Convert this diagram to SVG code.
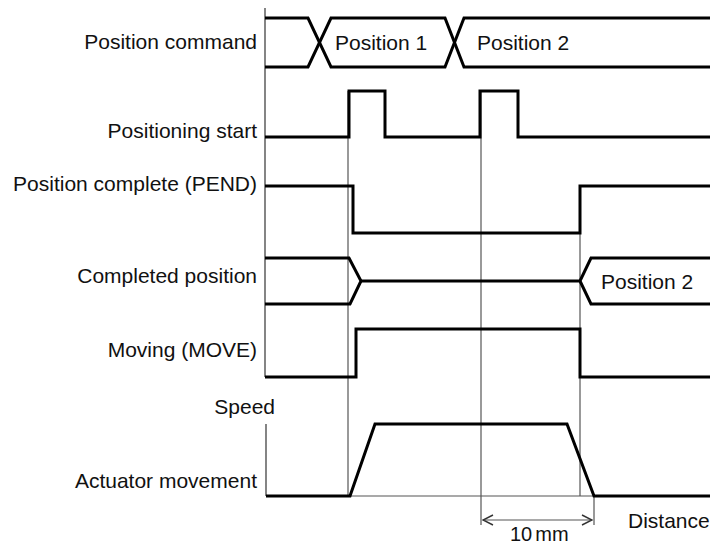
<svg xmlns="http://www.w3.org/2000/svg" width="710" height="546" viewBox="0 0 710 546">
<style>
.lbl{font-family:"Liberation Sans",Arial,sans-serif;font-size:21px;fill:#111}
.r{text-anchor:end}
.sig{fill:none;stroke:#000;stroke-width:3;stroke-linejoin:miter}
.thin{fill:none;stroke:#555;stroke-width:1.2}
.ax{fill:none;stroke:#666;stroke-width:1.6}
</style>
<defs>
<marker id="ar" viewBox="0 0 12 12" refX="11" refY="6" markerWidth="12" markerHeight="12" markerUnits="userSpaceOnUse" orient="auto-start-reverse">
<path d="M1,1 L11,6 L1,11" fill="none" stroke="#333" stroke-width="1.4"/>
</marker>
</defs>
<rect width="710" height="546" fill="#fff"/>
<g id="labels">
<text class="lbl r" x="257" y="49">Position command</text>
<text class="lbl r" x="257" y="138">Positioning start</text>
<text class="lbl r" x="257" y="191">Position complete (PEND)</text>
<text class="lbl r" x="257" y="283">Completed position</text>
<text class="lbl r" x="257" y="357">Moving (MOVE)</text>
<text class="lbl r" x="275" y="414">Speed</text>
<text class="lbl r" x="257" y="488">Actuator movement</text>
<text class="lbl" x="628" y="528">Distance</text>
</g>
<g id="connectors">
<line class="ax" x1="265" y1="8" x2="265" y2="377"/>
<line class="ax" x1="266" y1="424" x2="266" y2="496"/>
<line class="thin" x1="348" y1="91" x2="348" y2="496"/>
<line class="thin" x1="481" y1="91" x2="481" y2="525"/>
<line class="thin" x1="580" y1="233" x2="580" y2="496"/>
<line class="thin" x1="594" y1="496" x2="594" y2="525"/>
<line class="thin" x1="350" y1="496" x2="594" y2="496"/>
<line class="thin" x1="483" y1="520" x2="592" y2="520" marker-start="url(#ar)" marker-end="url(#ar)"/>
</g>
<g id="position-command">
<path class="sig" d="M265,18 H308 L331,67 H445 L464,18 H710"/>
<path class="sig" d="M265,67 H308 L331,18 H445 L464,67 H710"/>
<text class="lbl" x="335" y="50">Position 1</text>
<text class="lbl" x="477" y="50">Position 2</text>
</g>
<g id="positioning-start">
<path class="sig" d="M265,137 H349 V91 H385 V137 H480 V91 H518 V137 H710"/>
</g>
<g id="position-complete">
<path class="sig" d="M265,186 H353 V233 H580 V186 H710"/>
</g>
<g id="completed-position">
<path class="sig" d="M265,258 H349 L361,281 L350,304 H265"/>
<path class="sig" d="M361,281 H580 L591,258 H710 M580,281 L591,304 H710"/>
<text class="lbl" x="601" y="289">Position 2</text>
</g>
<g id="moving">
<path class="sig" d="M265,377 H356 V329 H580 V377 H710"/>
</g>
<g id="actuator-movement">
<path class="sig" d="M266,496 H350 L375,424 H567 L594,496 H710"/>
<text class="lbl" x="510" y="541" style="font-size:20px">10<tspan dx="3">mm</tspan></text>
</g>
</svg>
